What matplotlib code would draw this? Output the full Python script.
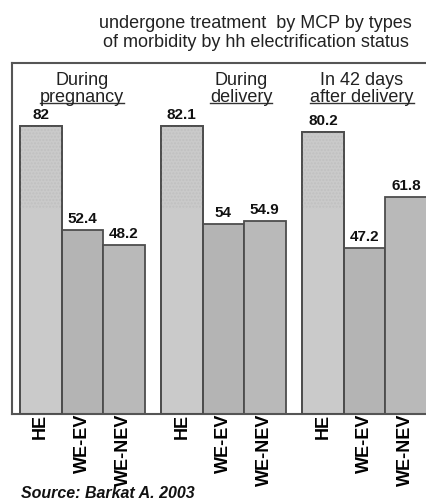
"""
Treatment by MCP by types of morbidity and household electrification status
"""

import matplotlib
matplotlib.use("Agg")
import matplotlib.pyplot as plt

plt.rcParams['font.family'] = ['Liberation Sans', 'DejaVu Sans']

groups = ['During\npregnancy', 'During\ndelivery', 'In 42 days\nafter delivery']
categories = ['HE', 'WE-EV', 'WE-NEV']
values = [
    [82, 52.4, 48.2],
    [82.1, 54, 54.9],
    [80.2, 47.2, 61.8],
]
value_labels = [
    ['82', '52.4', '48.2'],
    ['82.1', '54', '54.9'],
    ['80.2', '47.2', '61.8'],
]
title = 'undergone treatment  by MCP by types\nof morbidity by hh electrification status'
source = 'Source: Barkat A. 2003'

bar_colors = ['#cacaca', '#b4b4b4', '#b9b9b9']
edge = '#4d4d4d'
group_step = 3.4
shade_level = 58.3  # where the dotted texture of the light bars starts

fig = plt.figure(figsize=(4.27, 5.01), dpi=100)
ax = fig.add_axes([12 / 427, 1 - 414 / 501, 1 - 12 / 427, (414 - 63) / 501])

tick_pos = []
tick_lab = []
for g, vals in enumerate(values):
    for j, v in enumerate(vals):
        x = g * group_step + j
        ax.bar(x, v, width=1, align='edge', color=bar_colors[j],
               edgecolor=edge, linewidth=1.3, zorder=2)
        if j == 0 and v > shade_level:
            # dotted texture on the upper part of the light bars
            ax.bar(x, v - shade_level, bottom=shade_level, width=1, align='edge',
                   color='none', edgecolor='#c0c0c0', linewidth=0, hatch='.....', zorder=3)
            ax.bar(x, v, width=1, align='edge', color='none',
                   edgecolor=edge, linewidth=1.3, zorder=4)
        ax.text(x + 0.5, v + 1.2, value_labels[g][j], ha='center', va='bottom',
                fontsize=11, fontweight='bold', color='#111111')
        tick_pos.append(x + 0.5)
        tick_lab.append(categories[j])

ax.set_xlim(-8 / 41.5, (427 - 20) / 41.5)
ax.set_ylim(0, 100)
ax.set_yticks([])
ax.set_xticks(tick_pos)
ax.set_xticklabels(tick_lab, rotation=90, fontsize=13, fontweight='bold', va='top')
ax.tick_params(axis='x', length=0, pad=0)
for s in ['left', 'top', 'bottom']:
    ax.spines[s].set_color('#555555')
    ax.spines[s].set_linewidth(1.5)
ax.spines['right'].set_visible(False)

# group headers, second line underlined
header_x = [1.5, 5.33, 8.24]
line_texts = []
for gx, name in zip(header_x, groups):
    first, second = name.split('\n')
    ax.text(gx, 95.0, first, ha='center', va='center', fontsize=13, color='#222222')
    t = ax.text(gx, 90.3, second, ha='center', va='center', fontsize=13, color='#222222')
    line_texts.append(t)

fig.canvas.draw()
renderer = fig.canvas.get_renderer()
inv = ax.transData.inverted()
for t in line_texts:
    bb = t.get_window_extent(renderer)
    (x0, y0), (x1, y1) = inv.transform([(bb.x0, bb.y0), (bb.x1, bb.y1)])
    yl = y0 + (y1 - y0) * 0.15
    ax.plot([x0, x1], [yl, yl], color='#333333', linewidth=1.0, clip_on=False)

fig.text(0.599, 1 - 33 / 501, title, ha='center', va='center', fontsize=13,
         color='#222222', multialignment='center', linespacing=1.1)
fig.text(21 / 427, 1 - 493 / 501, source, ha='left', va='center', fontsize=11.5,
         fontweight='bold', fontstyle='italic', color='#111111')

fig.savefig('out.png', dpi=100)
